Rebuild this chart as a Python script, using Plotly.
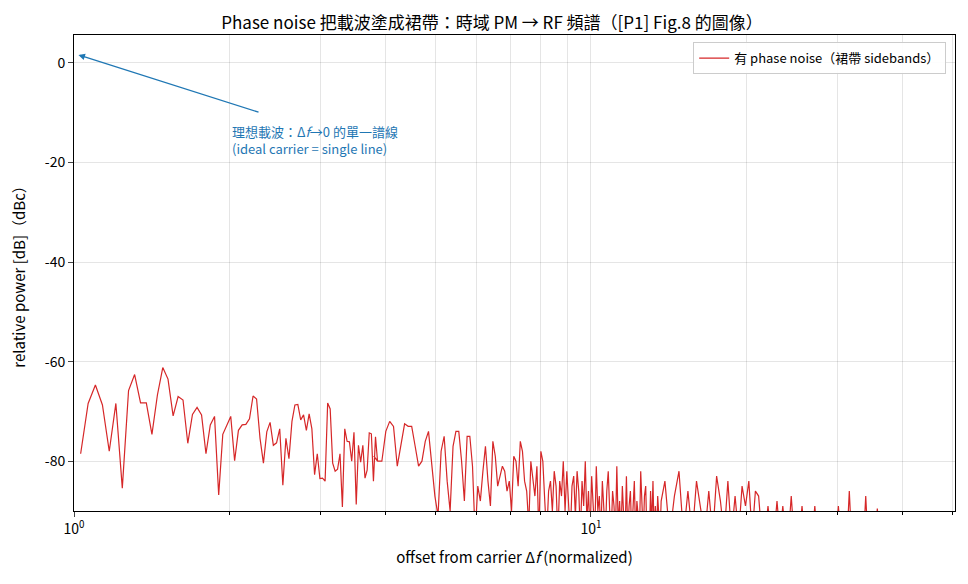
import numpy as np
import plotly.graph_objects as go

# segment 1: offsets 1.03 .. ~3.76 (step 0.035)
p1 = [-78.5,-68.4,-64.7,-68.7,-78,-68.4,-85.4,-65.8,-62.6,-68.3,-68.3,-74.6,-66.7,-61.2,-63.5,-70.9,-67,-67.7,
      -76.4,-70.6,-69.2,-70.7,-78.5,-72.7,-71,-86.8,-74.6,-72.8,-71,-79.9,-73.8,-72.7,-72.6,-71.5,-66.9,-67.5,
      -75.4,-80.4,-74.1,-72.2,-76.8,-76.3,-73.5,-84.8,-75.4,-79.5,-72,-68.7,-68.6,-71.7,-70.7,-73.8,-70.5,-73.5,
      -82.7,-78.5,-83.5,-83.4,-84,-68.3,-69.5,-80.4,-82,-81.6,-78.5,-89.2,-73.5,-76,-76.1,-80,-74.2,-88.7,
      -76.8,-80.2,-76.8,-83.4,-81.8,-74.3,-74.5,-84,-75.1,-80]
# segment 2: offsets 3.80 .. (step 0.07)
p2 = [-79,-80,-80,-74,-72,-73,-81,-77,-72.5,-73,
      -73,-77,-81,-80,-76,-74,-80,-87,-91,-78,
      -75,-84,-90,-77,-74,-74,-80,-88,-75,-75,
      -81,-95,-85,-88,-82,-77,-84,-89,-76,-79,
      -85,-83,-81,-82,-86,-84,-90,-79,-80,-85,
      -76,-78,-84,-86,-93,-80,-83,-87,-81,-95,
      -78,-80,-88,-95,-86,-84,-90,-82,-85,-95,
      -84,-87,-80,-90,-82,-88,-95,-85,-83,-91,
      -82,-86,-95,-84,-89,-80,-92,-86,-95,-83,
      -88,-95,-81,-90,-87,-95,-84,-91,-95,-86,
      -82,-90,-95,-86,-89,-95,-81,-93,-88,-95,
      -85,-91,-95,-83,-95,-89,-86,-95,-90,-84,
      -95,-88,-91,-95,-82,-92,-95,-87,-85,-95,
      -90,-95,-86,-93,-84,-95,-89,-95,-87,-91,
      -95,-88]
# segment 3: offsets 13.9 .. 50.5 (step 0.3)
p3 = [-84,-95,-87,-82,-95,-86,-95,-84,-89,-95,
      -86,-95,-83,-88,-95,-84,-95,-87,-95,-85,
      -89,-84,-95,-86,-87,-95,-95,-89,-95,-95,
      -88,-95,-89,-95,-95,-87,-95,-95,-95,-89,
      -95,-95,-95,-95,-89,-95,-95,-95,-95,-95,
      -95,-95,-95,-95,-89,-95,-95,-95,-95,-86,
      -95,-95,-95,-90,-95,-95,-95,-87,-95,-95,
      -95,-95,-95,-89.5,-95,-95,-95,-95,-95,-95,
      -95,-95,-95,-95,-95,-95,-95,-95,-95,-95,
      -95,-95,-95,-95,-95,-95,-95,-95,-95,-95,
      -95,-95,-95,-95,-95,-95,-95,-95,-95,-95,
      -95,-95,-95,-95,-95,-95,-95,-95,-95,-95,
      -95,-95,-95]
y_ticks = [-80, -60, -40, -20, 0]
y_labels = ["-80", "-60", "-40", "-20", "0"]

f1 = 1.03 + 0.035*np.arange(len(p1))
f2 = 3.80 + 0.07*np.arange(len(p2))
f3 = 13.9 + 0.3*np.arange(len(p3))
freq = np.concatenate([f1, f2, f3])
power = np.array(p1 + p2 + p3)

FONT = "Noto Sans CJK TC"
fig = go.Figure()
fig.add_trace(go.Scatter(x=freq, y=power, mode="lines",
                         line=dict(color="#d62728", width=1.2),
                         name="有 phase noise（裙帶 sidebands）"))

minor_vals = [v*d for d in (1, 10) for v in range(2, 10)]
fig.update_xaxes(type="log", range=[0, np.log10(50.6)],
                 tickvals=[1, 10], ticktext=["10<sup>0</sup>", "10<sup>1</sup>"],
                 showgrid=True, gridcolor="rgba(0,0,0,0.1)",
                 minor=dict(tickvals=minor_vals, showgrid=True, gridcolor="rgba(0,0,0,0.1)",
                            ticks="outside", ticklen=3, tickcolor="black"),
                 ticks="outside", ticklen=5, showline=True, linecolor="black", mirror=True,
                 zeroline=False, automargin=False,
                 title=dict(text="offset from carrier Δ<i>f</i> (normalized)", font=dict(size=15)))
fig.update_yaxes(range=[-90, 5.6], tickvals=y_ticks, ticktext=y_labels,
                 showgrid=True, gridcolor="rgba(0,0,0,0.1)", zeroline=False,
                 ticks="outside", ticklen=5, showline=True, linecolor="black", mirror=True,
                 automargin=False,
                 title=dict(text="relative power [dB]（dBc）", font=dict(size=15)))

fig.add_annotation(x=np.log10(1.02), y=1.6, ax=np.log10(2.29), ay=-10,
                   xref="x", yref="y", axref="x", ayref="y", text="",
                   showarrow=True, arrowhead=2, arrowsize=1, arrowwidth=1.3, arrowcolor="#1f77b4")
fig.add_annotation(x=np.log10(2.0), y=-11.5, xref="x", yref="y", xanchor="left", yanchor="top",
                   showarrow=False, align="left",
                   text="理想載波：Δ<i>f</i>→0 的單一譜線<br>(ideal carrier = single line)",
                   font=dict(color="#1f77b4", size=13))

fig.update_layout(
    width=968, height=584, template="plotly_white",
    font=dict(family=FONT, size=14, color="black"),
    title=dict(text="Phase noise 把載波塗成裙帶：時域 PM → RF 頻譜（[P1] Fig.8 的圖像）",
               x=0.5, xanchor="center", y=0.985, font=dict(size=17)),
    margin=dict(l=66, r=21, t=27, b=81),
    showlegend=True,
    legend=dict(x=0.99, y=0.985, xanchor="right", yanchor="top",
                bordercolor="#cccccc", borderwidth=1, bgcolor="rgba(255,255,255,0.9)",
                font=dict(size=13)),
    plot_bgcolor="white",
)
fig.write_html("out.html")
